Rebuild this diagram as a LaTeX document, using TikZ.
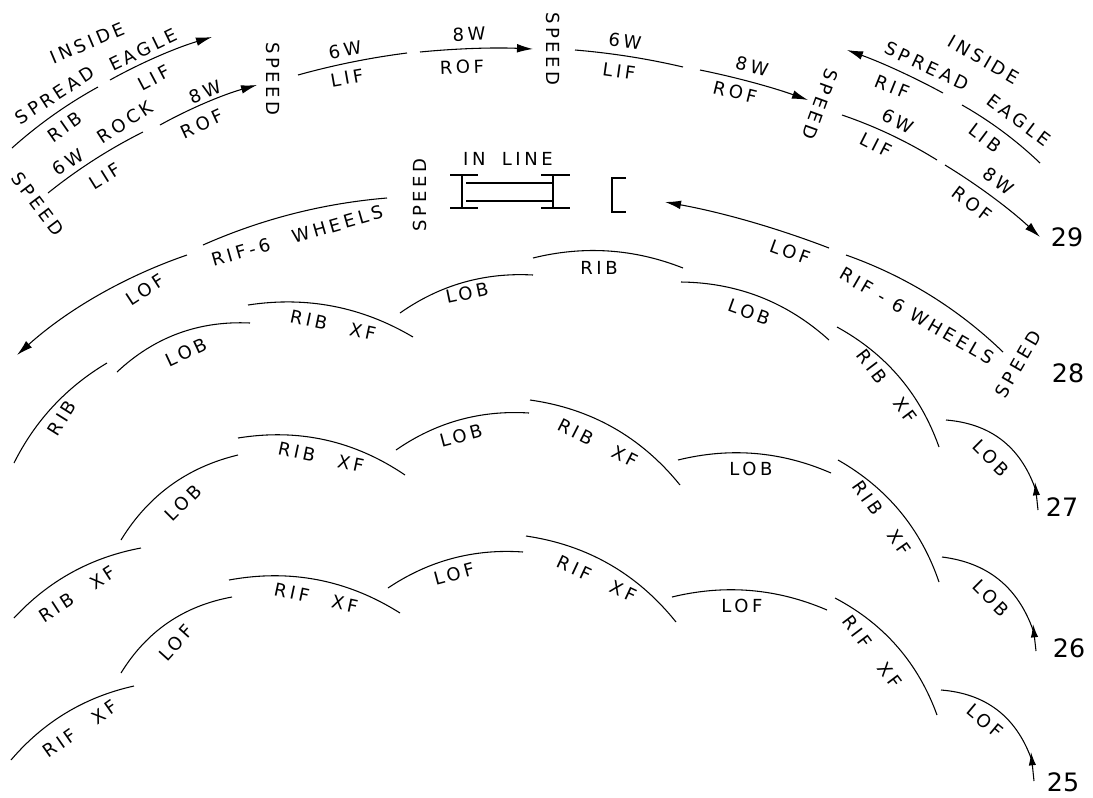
\documentclass[tikz,border=0pt]{standalone}
\usepackage{fontspec}
\setmainfont{DejaVu Sans}
\newfontfamily\lblfont{DejaVu Sans}[LetterSpace=20]
\usetikzlibrary{calc,arrows.meta}
\newcommand\gp{\hspace{1.3em}}
\begin{document}
\begin{tikzpicture}[x=0.75pt,y=-0.75pt,
  lbl/.style={font=\lblfont\fontsize{13.5}{14}\selectfont, inner sep=0pt},
  num/.style={font=\fontsize{19}{20}\selectfont, inner sep=0pt},
  ln/.style={line width=0.8pt},
  arcb/.style={to path={.. controls ($(\tikztostart)!1/3!(\tikztotarget)!#1!90:(\tikztotarget)$)
      and ($(\tikztostart)!2/3!(\tikztotarget)!#1!90:(\tikztotarget)$) .. (\tikztotarget)}},
  endtip/.style={-{Latex[length=12pt,width=6.5pt]}},
  starttip/.style={{Latex[length=12pt,width=6.5pt]}-},
  uptip/.style={-{Latex[length=10pt,width=5.5pt]}}]
\useasboundingbox (0,0) rectangle (1093,797);

% ---------- top row ----------
\draw[ln] (12,148) to[arcb=3pt] (98,87);
\draw[ln,endtip] (110,80) to[arcb=3pt] (212,37);
\draw[ln] (48,193) to[arcb=3pt] (143,132);
\draw[ln,endtip] (160,125) to[arcb=3pt] (257,85);
\draw[ln] (298,75) to[arcb=2pt] (407,53);
\draw[ln,endtip] (420,52) to[arcb=2pt] (533,49);
\draw[ln] (575,50) to[arcb=2pt] (683,67);
\draw[ln,endtip] (700,70) to[arcb=2pt] (808,100);
\draw[ln] (842,115) to[arcb=3pt] (937,160);
\draw[ln,endtip] (945,165) to[arcb=3pt] (1040,237);
\draw[ln,starttip] (847,50) to[arcb=2pt] (943,93);
\draw[ln] (962,105) to[arcb=3pt] (1040,163);

\node[lbl,rotate=23] (t1) at (87,43) {INSIDE};
\node[lbl,rotate=33] (t2) at (55,95) {SPREAD};
\node[lbl,rotate=26] (t3) at (143,50) {EAGLE};
\node[lbl,rotate=35] (t4) at (65,127) {RIB};
\node[lbl,rotate=28] (t5) at (154,78) {LIF};
\node[lbl,rotate=32] (t6) at (68,162) {6W};
\node[lbl,rotate=33] (t7) at (125,122) {ROCK};
\node[lbl,rotate=22] (t8) at (205,92) {8W};
\node[lbl,rotate=32] (t9) at (105,176) {LIF};
\node[lbl,rotate=25] (t10) at (202,124) {ROF};
\node[lbl,rotate=-53] (t11) at (38,204) {SPEED};
\node[lbl,rotate=-90] (t12) at (273,79) {SPEED};
\node[lbl,rotate=10] (t13) at (345,50) {6W};
\node[lbl,rotate=10] (t14) at (347,78) {LIF};
\node[lbl,rotate=2] (t15) at (469,34) {8W};
\node[lbl,rotate=2] (t16) at (462,67) {ROF};
\node[lbl,rotate=-90] (t17) at (553,49) {SPEED};
\node[lbl,rotate=-8] (t18) at (625,41) {6W};
\node[lbl,rotate=-8] (t19) at (619,71) {LIF};
\node[lbl,rotate=-14] (t20) at (752,66) {8W};
\node[lbl,rotate=-14] (t21) at (735,92) {ROF};
\node[lbl,rotate=-110] (t22) at (820,104) {SPEED};
\node[lbl,rotate=-27] (t23) at (898,121) {6W};
\node[lbl,rotate=-27] (t24) at (876,145) {LIF};
\node[lbl,rotate=-37] (t25) at (999,181) {8W};
\node[lbl,rotate=-37] (t26) at (972,204) {ROF};
\node[num] (n29) at (1067,237) {29};
\node[lbl,rotate=-25] (t27) at (927,66) {SPREAD};
\node[lbl,rotate=-30] (t28) at (984,60) {INSIDE};
\node[lbl,rotate=-37] (t29) at (1019,120) {EAGLE};
\node[lbl,rotate=-22] (t30) at (892,87) {RIF};
\node[lbl,rotate=-37] (t31) at (985,138) {LIB};

% ---------- middle ----------
\node[lbl,rotate=90] (t32) at (420,195) {SPEED};
\node[lbl] (t33) at (508,159) {IN\hspace{0.9em}LINE};
\draw[ln] (450,175) -- (478,175) (462,175) -- (462,208) (450,208) -- (478,208);
\draw[ln] (541,175) -- (570,175) (553,175) -- (553,208) (541,208) -- (570,208);
\draw[ln] (466,183) -- (553,183) (466,201) -- (553,201);
\draw[ln] (626,178) -- (612,178) -- (612,212) -- (626,212);

\draw[ln,starttip] (17,355) to[arcb=10pt] (187,255);
\draw[ln] (203,245) to[arcb=8pt] (387,198);
\node[lbl,rotate=33] (t34) at (145,290) {LOF};
\node[lbl,rotate=16] (t35) at (297,236) {RIF-6\gp WHEELS};

\draw[ln,starttip] (665,202) to[arcb=4pt] (829,248);
\draw[ln] (846,255) to[arcb=10pt] (1003,352);
\node[lbl,rotate=-20] (t37) at (790,252) {LOF};
\node[lbl,rotate=-30] (t38) at (917,316) {RIF - 6 WHEELS};
\node[lbl,rotate=60] (t39) at (1018,364) {SPEED};
\node[num] (n28) at (1068,373) {28};

% ---------- row 27 ----------
\draw[ln] (14,463) to[arcb=10pt] (107,363);
\draw[ln] (117,372) to[arcb=15pt] (250,323);
\draw[ln] (248,305) to[arcb=15pt] (413,337);
\draw[ln] (400,313) to[arcb=12pt] (533,275);
\draw[ln] (533,258) to[arcb=12pt] (683,268);
\draw[ln] (681,282) to[arcb=15pt] (829,340);
\draw[ln] (837,327) to[arcb=15pt] (939,447);
\draw[ln] (946,420) to[arcb=18pt] (1035,488);
\draw[ln,uptip] (1038,510) -- (1035,482);
\node[lbl,rotate=58] (a1) at (62,418) {RIB};
\node[lbl,rotate=25] (a2) at (186,352) {LOB};
\node[lbl,rotate=-12] (a3) at (333,325) {RIB\gp XF};
\node[lbl,rotate=12] (a4) at (467,293) {LOB};
\node[lbl] (a5) at (599,268) {RIB};
\node[lbl,rotate=-20] (a6) at (749,312) {LOB};
\node[lbl,rotate=-53] (a7) at (887,386) {RIB\gp XF};
\node[lbl,rotate=-45] (a8) at (991,458) {LOB};
\node[num] (n27) at (1062,507) {27};

% ---------- row 26 ----------
\draw[ln] (14,618) to[arcb=12pt] (141,548);
\draw[ln] (121,540) to[arcb=15pt] (238,455);
\draw[ln] (238,438) to[arcb=17pt] (405,475);
\draw[ln] (396,450) to[arcb=12pt] (529,413);
\draw[ln] (530,400) to[arcb=17pt] (680,485);
\draw[ln] (678,460) to[arcb=13pt] (831,473);
\draw[ln] (838,460) to[arcb=15pt] (939,582);
\draw[ln] (942,557) to[arcb=18pt] (1033,630);
\draw[ln,uptip] (1036,651) -- (1033,624);
\node[lbl,rotate=33] (b1) at (77,594) {RIB\gp XF};
\node[lbl,rotate=45] (b2) at (183,503) {LOB};
\node[lbl,rotate=-12] (b3) at (321,457) {RIB\gp XF};
\node[lbl,rotate=15] (b4) at (461,436) {LOB};
\node[lbl,rotate=-27] (b5) at (598,443) {RIB\gp XF};
\node[lbl] (b6) at (751,469) {LOB};
\node[lbl,rotate=-55] (b7) at (882,518) {RIB\gp XF};
\node[lbl,rotate=-45] (b8) at (991,598) {LOB};
\node[num] (n26) at (1069,648) {26};

% ---------- row 25 ----------
\draw[ln] (11,760) to[arcb=12pt] (134,686);
\draw[ln] (121,673) to[arcb=15pt] (232,597);
\draw[ln] (229,580) to[arcb=17pt] (400,613);
\draw[ln] (388,588) to[arcb=12pt] (523,552);
\draw[ln] (526,536) to[arcb=17pt] (676,622);
\draw[ln] (672,597) to[arcb=13pt] (827,610);
\draw[ln] (835,598) to[arcb=15pt] (937,715);
\draw[ln] (941,690) to[arcb=18pt] (1031,758);
\draw[ln,uptip] (1034,781) -- (1031,752);
\node[lbl,rotate=35] (c1) at (80,729) {RIF\gp XF};
\node[lbl,rotate=48] (c2) at (176,643) {LOF};
\node[lbl,rotate=-12] (c3) at (316,598) {RIF\gp XF};
\node[lbl,rotate=15] (c4) at (454,574) {LOF};
\node[lbl,rotate=-25] (c5) at (597,579) {RIF\gp XF};
\node[lbl] (c6) at (742,606) {LOF};
\node[lbl,rotate=-53] (c7) at (872,652) {RIF\gp XF};
\node[lbl,rotate=-40] (c8) at (985,721) {LOF};
\node[num] (n25) at (1063,782) {25};
\end{tikzpicture}
\end{document}
